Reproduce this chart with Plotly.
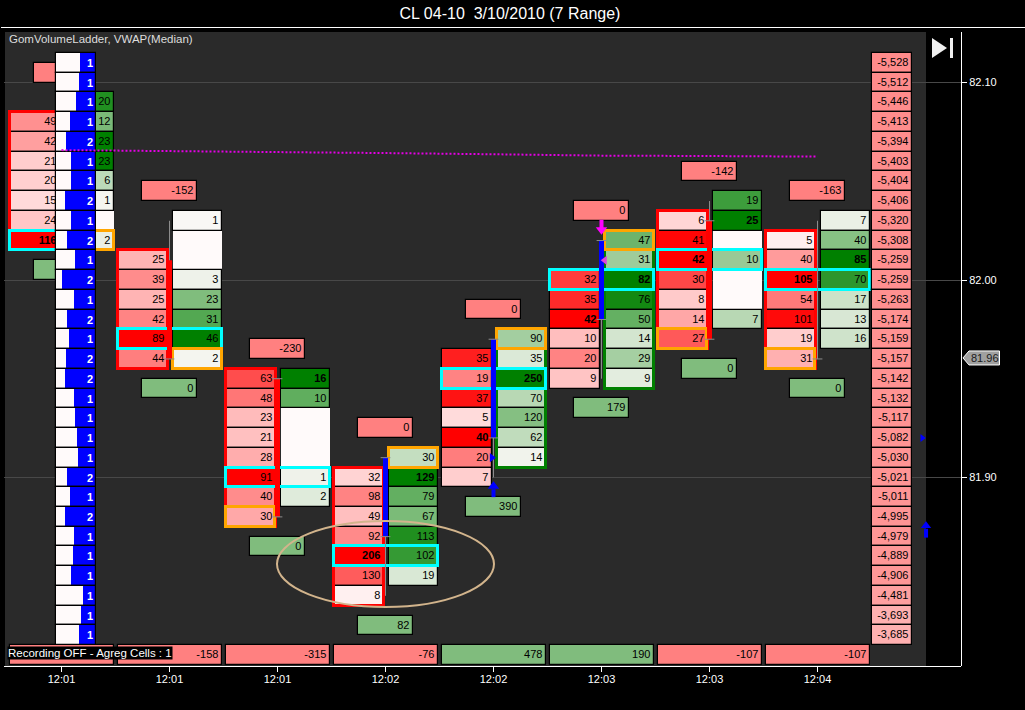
import plotly.graph_objects as go

# ---------- data ----------
tick_labels = ["12:01", "12:01", "12:01", "12:02", "12:02", "12:03", "12:03", "12:04"]
price_ticks = [82.10, 82.00, 81.90]
last_price = 81.96

bid_top = [82.08, 82.01, 81.95, 81.90, 81.96, 82.00, 82.03, 82.02]
ask_top = [82.09, 82.03, 81.95, 81.91, 81.97, 82.02, 82.04, 82.03]
bid_0 = [49, 42, 21, 20, 15, 24, 116]
bid_1 = [25, 39, 25, 42, 89, 44]
bid_2 = [63, 48, 23, 21, 28, 91, 40, 30]
bid_3 = [32, 98, 49, 92, 206, 130, 8]
bid_4 = [35, 19, 37, 5, 40, 20, 7]
bid_5 = [32, 35, 42, 10, 20, 9]
bid_6 = [6, 41, 42, 30, 8, 14, 27]
bid_7 = [5, 40, 105, 54, 101, 19, 31]
ask_0 = [20, 12, 23, 23, 6, 1, 0, 2]
ask_1 = [1, 0, 0, 3, 23, 31, 46, 2]
ask_2 = [16, 10, 0, 0, 0, 1, 2]
ask_3 = [30, 129, 79, 67, 113, 102, 19]
ask_4 = [90, 35, 250, 70, 120, 62, 14]
ask_5 = [47, 31, 82, 76, 50, 14, 29, 9]
ask_6 = [19, 25, 0, 10, 0, 0, 7]
ask_7 = [7, 40, 85, 70, 17, 13, 16]
bids = [bid_0, bid_1, bid_2, bid_3, bid_4, bid_5, bid_6, bid_7]
asks = [ask_0, ask_1, ask_2, ask_3, ask_4, ask_5, ask_6, ask_7]
bold_bid = [116, None, None, 206, 40, 42, 42, 105]
bold_ask = [None, None, 16, 129, 250, 82, 25, 85]

poc_price = [82.02, 81.97, 81.90, 81.86, 81.95, 82.00, 82.01, 82.00]
open_side = ["ask", "ask", "bid", "ask", "ask", "ask", "bid", "bid"]
open_price = [82.02, 81.96, 81.88, 81.91, 81.97, 82.02, 81.97, 81.96]
frame_side = ["bid", "bid", "bid", "bid", "ask", "ask", "bid", "bid"]

delta_hi_price = [82.105, 82.045, 81.965, 81.925, 81.985, 82.035, 82.055, 82.045]
delta_hi_text = ["", "-152", "-230", "0", "0", "0", "-142", "-163"]
delta_lo_price = [82.005, 81.945, 81.865, 81.825, 81.885, 81.935, 81.955, 81.945]
delta_lo_text = ["", "0", "0", "82", "390", "179", "0", "0"]
total_delta = [None, -158, -315, -76, 478, 190, -107, -107]

# candles for columns 1..7
candle_col = [1, 2, 3, 4, 5, 6, 7]
body_hi = [82.01, 81.95, 81.91, 81.97, 82.02, 82.03, 82.00]
body_lo = [81.96, 81.88, 81.87, 81.92, 81.98, 81.97, 82.00]
wick_hi = [82.03, 81.95, 81.91, 81.97, 82.02, 82.04, 82.03]
wick_lo = [81.96, 81.88, 81.84, 81.90, 81.95, 81.97, 81.96]
candle_dir = ["red", "red", "blue", "blue", "blue", "red", "red"]
cap_col = [1, 2, 2, 3, 3, 4, 4, 5, 5, 6, 6, 7]
cap_price = [81.96, 81.95, 81.88, 81.91, 81.87, 81.97, 81.92, 82.02, 81.98, 82.03, 81.97, 81.96]

ladder_price = [82.11, 82.10, 82.09, 82.08, 82.07, 82.06, 82.05, 82.04, 82.03, 82.02,
                82.01, 82.00, 81.99, 81.98, 81.97, 81.96, 81.95, 81.94, 81.93, 81.92,
                81.91, 81.90, 81.89, 81.88, 81.87, 81.86, 81.85, 81.84, 81.83, 81.82]
cum_delta = [-5528, -5512, -5446, -5413, -5394, -5403, -5404, -5406, -5320, -5308,
             -5259, -5259, -5263, -5174, -5159, -5157, -5142, -5132, -5117, -5082,
             -5030, -5021, -5011, -4995, -4979, -4889, -4906, -4481, -3693, -3685]
profile_label = [1, 1, 1, 1, 2, 1, 1, 2, 1, 2, 1, 2, 1, 2, 1, 2, 2, 1, 1, 1, 1, 2, 1, 2, 1, 1, 1, 1, 1, 1]
profile_volume = [16, 17, 20, 26, 30, 25, 25, 31, 25, 29, 21, 34, 22, 29, 27, 30, 31, 22, 21, 19,
                  18, 29, 26, 31, 22, 23, 25, 13, 15, 17]

vwap_col = [0, 1, 2, 3, 4, 5, 6, 7]
vwap_price = [82.0658, 82.0654, 82.0650, 82.0643, 82.0637, 82.0630, 82.0628, 82.0625]

# ---------- layout constants ----------
L, R, T, B = 4, 961, 27, 666
PXW = R - L
PXH = B - T
COL = 108.0
CX0 = 61.5
Y0, DY = 280.0, 1974.0
TICK = 0.01


def px_x(px):
    return (px - CX0) / COL


def py_p(py):
    return 82 + (Y0 - py) / DY


def pap_x(px):
    return (px - L) / PXW


def pap_y(py):
    return 1 - (py - T) / PXH


def mix(v, vmax, rgb):
    a = min(1.0, abs(v) / vmax) if vmax else 0
    base = (255, 250, 250)
    return "rgb(%d,%d,%d)" % tuple(round(base[i] + (rgb[i] - base[i]) * a) for i in range(3))


FONT = "Liberation Sans"
RED, GREEN = (255, 0, 0), (0, 128, 0)
DELTA_RED, DELTA_GREEN = "#FF8080", "#80BC7D"
WHITE = "#FFFAFA"

fig = go.Figure()


def hbar(y, base, w, color, text=None, lw=1, lc="black", height=TICK, tc="black", size=11):
    fig.add_trace(go.Bar(
        orientation="h", y=y, x=w, base=base, width=height,
        marker=dict(color=color, line=dict(color=lc, width=lw)),
        text=text, textposition="inside" if text is not None else "none",
        insidetextanchor="end", constraintext="none", textangle=0,
        textfont=dict(family=FONT, size=size, color=tc),
        hoverinfo="skip", showlegend=False))


# candles (below the cells)
wx, wy, rx, ry, bx, by = [], [], [], [], [], []
for c, bh, bl, wh, wl, d in zip(candle_col, body_hi, body_lo, wick_hi, wick_lo, candle_dir):
    wx += [c, c, None]
    wy += [wh, wl, None]
    if bh != bl:
        if d == "red":
            rx += [c, c, None]
            ry += [bh, bl, None]
        else:
            bx += [c, c, None]
            by += [bh, bl, None]
common = dict(mode="lines", hoverinfo="skip", showlegend=False)
fig.add_trace(go.Scatter(x=wx, y=wy, line=dict(color="#8C8C8C", width=1), **common))
fig.add_trace(go.Scatter(x=rx, y=ry, line=dict(color="#FF0000", width=5), **common))
fig.add_trace(go.Scatter(x=bx, y=by, line=dict(color="#0000FF", width=5), **common))
fig.add_trace(go.Scatter(x=cap_col, y=cap_price, mode="markers", hoverinfo="skip", showlegend=False,
                         marker=dict(symbol="line-ew", size=7, line=dict(color="#8C8C8C", width=1))))

# delta boxes above / below and totals
for c in range(8):
    hbar([delta_hi_price[c]], [c - 27.5 / COL], [55 / COL], DELTA_RED, [delta_hi_text[c]], lw=1.2)
    hbar([delta_lo_price[c]], [c - 27.5 / COL], [55 / COL], DELTA_GREEN, [delta_lo_text[c]], lw=1.2)
    t = total_delta[c]
    hbar([81.81], [c - 52 / COL], [104 / COL],
         DELTA_GREEN if (t or 0) > 0 else DELTA_RED, ["" if t is None else str(t)], lw=1.2)

# bid and ask cells
for c in range(8):
    b, a = bids[c], asks[c]
    by_ = [round(bid_top[c] - i * TICK, 2) for i in range(len(b))]
    ay_ = [round(ask_top[c] - i * TICK, 2) for i in range(len(a))]
    bmax, amax = max(b), max(a)
    btxt = [("<b>%d</b>" % v if v == bold_bid[c] else str(v)) for v in b]
    atxt = [("" if v == 0 else ("<b>%d</b>" % v if v == bold_ask[c] else str(v))) for v in a]
    hbar(by_, [c - 52 / COL] * len(b), [50 / COL] * len(b), [mix(v, bmax, RED) for v in b], btxt, lw=1.2)
    hbar(ay_, [c + 3 / COL] * len(a), [49 / COL] * len(a), [mix(v, amax, GREEN) for v in a], atxt,
         lw=[0 if v == 0 else 1.2 for v in a])

    # outer frame of the dominant side
    if frame_side[c] == "bid":
        mid = (by_[0] + by_[-1]) / 2
        hbar([mid], [c - 52 / COL], [50 / COL], "rgba(0,0,0,0)", lw=3, lc="#FF0000", height=TICK * len(b))
    else:
        mid = (ay_[0] + ay_[-1]) / 2
        hbar([mid], [c + 3 / COL], [49 / COL], "rgba(0,0,0,0)", lw=3, lc="#008000", height=TICK * len(a))

# point-of-control and opening cells
for c in range(8):
    hbar([poc_price[c]], [c - 52 / COL], [104 / COL], "rgba(0,0,0,0)", lw=3, lc="#00FFFF")
    base = c - 52 / COL if open_side[c] == "bid" else c + 3 / COL
    hbar([open_price[c]], [base], [49.5 / COL], "rgba(0,0,0,0)", lw=3, lc="#FFA500")

# volume profile on the left
n = len(ladder_price)
hbar(ladder_price, [px_x(56)] * n, [40 / COL] * n, WHITE, lw=0)
hbar(ladder_price, [px_x(96) - v / COL for v in profile_volume], [v / COL for v in profile_volume],
     "#0000FF", ["<b>%d</b>" % v for v in profile_label], lw=0, tc="white")
hbar(ladder_price, [px_x(56)] * n, [40 / COL] * n, "rgba(0,0,0,0)", lw=1.2)

# cumulative delta ladder on the right
hbar(ladder_price, [px_x(872)] * n, [40 / COL] * n,
     [mix(v, 12400, RED) for v in cum_delta], ["{:,}".format(v) for v in cum_delta], lw=1.2)

# VWAP
fig.add_trace(go.Scatter(x=vwap_col, y=vwap_price, mode="lines", hoverinfo="skip", showlegend=False,
                         line=dict(color="#E400E4", width=2, dash="2px,2px")))

# signal markers
def tri(x, y, sym, color, size, lw=0, lc="white"):
    fig.add_trace(go.Scatter(x=[x], y=[y], mode="markers", hoverinfo="skip", showlegend=False,
                             cliponaxis=False,
                             marker=dict(symbol=sym, color=color, size=size, line=dict(width=lw, color=lc))))


def shaft(x, y0, y1, color):
    fig.add_trace(go.Scatter(x=[x, x], y=[y0, y1], mode="lines", hoverinfo="skip", showlegend=False,
                             line=dict(color=color, width=4)))


tri(3.985, 81.91, "triangle-right", "#0000FF", 8)
shaft(4.0, 81.890, 81.894, "#0000FF")
tri(4.0, 81.8955, "triangle-up", "#0000FF", 10)
shaft(5.0, 82.0305, 82.026, "#FF00FF")
tri(5.0, 82.0255, "triangle-down", "#FF00FF", 10)
tri(5.03, 82.01, "triangle-left", "#E040E0", 8)
tri(7.97, 81.92, "triangle-right", "#0000FF", 7)
shaft(8.005, 81.8695, 81.874, "#0000FF")
tri(8.005, 81.8755, "triangle-up", "#0000FF", 9)

flag_y = Y0 + (82 - last_price) * DY - 1

shapes = [
    # chart panel
    dict(type="rect", xref="paper", yref="paper", layer="below",
         x0=pap_x(5), x1=pap_x(926), y0=pap_y(666), y1=pap_y(32),
         fillcolor="#2A2A2A", line=dict(width=0)),
    # frame lines
    dict(type="line", xref="paper", yref="paper", x0=pap_x(1), x1=pap_x(1025), y0=pap_y(27.5), y1=pap_y(27.5),
         line=dict(color="white", width=1)),
    dict(type="line", xref="paper", yref="paper", x0=pap_x(961.5), x1=pap_x(961.5), y0=pap_y(32), y1=pap_y(666),
         line=dict(color="white", width=1)),
    # go-to-end button
    dict(type="path", xref="paper", yref="paper",
         path="M %f %f L %f %f L %f %f Z" % (pap_x(932), pap_y(38), pap_x(947), pap_y(48), pap_x(932), pap_y(58)),
         fillcolor="#F0F0F0", line=dict(width=0)),
    dict(type="rect", xref="paper", yref="paper", x0=pap_x(950), x1=pap_x(953), y0=pap_y(58), y1=pap_y(38),
         fillcolor="#F0F0F0", line=dict(width=0)),
    # last price flag
    dict(type="path", xref="paper", yref="paper",
         path="M %f %f L %f %f L %f %f L %f %f L %f %f Z" % (
             pap_x(963), pap_y(flag_y), pap_x(969), pap_y(flag_y - 7), pap_x(999.5), pap_y(flag_y - 7),
             pap_x(999.5), pap_y(flag_y + 7), pap_x(969), pap_y(flag_y + 7)),
         fillcolor="#A0A0A0", line=dict(color="white", width=1)),
    # hand-drawn ellipse
    dict(type="circle", xref="x", yref="y", x0=px_x(277), x1=px_x(494), y0=py_p(607), y1=py_p(521),
         line=dict(color="#D2B48C", width=2), fillcolor="rgba(0,0,0,0)"),
]

annotations = [
    dict(text="GomVolumeLadder, VWAP(Median)", xref="paper", yref="paper", x=pap_x(6.5), y=pap_y(39),
         xanchor="left", yanchor="middle", showarrow=False, font=dict(family=FONT, size=11.5, color="#DDDDDD")),
    dict(text="Recording OFF - Agreg Cells : 1", xref="paper", yref="paper", x=pap_x(6.5), y=pap_y(653),
         xanchor="left", yanchor="middle", showarrow=False, bgcolor="black", borderpad=0,
         font=dict(family=FONT, size=11.5, color="white")),
    dict(text="81.96", xref="paper", yref="paper", x=pap_x(970), y=pap_y(flag_y), xanchor="left", yanchor="middle",
         showarrow=False, borderpad=0,
         font=dict(family=FONT, size=11, color="#1A1A1A")),
]

fig.update_layout(
    width=1025, height=710, autosize=False,
    margin=dict(l=L, r=1025 - R, t=T, b=710 - B, pad=0),
    paper_bgcolor="black", plot_bgcolor="rgba(0,0,0,0)",
    barmode="overlay", bargap=0, showlegend=False,
    title=dict(text="CL 04-10  3/10/2010 (7 Range)", x=510 / 1025, xref="container", xanchor="center",
               y=1 - 13 / 710, yanchor="middle", font=dict(family=FONT, size=16, color="white")),
    xaxis=dict(range=[px_x(L), px_x(R)], tickvals=list(range(8)), ticktext=tick_labels,
               showgrid=False, zeroline=False, showline=True, linecolor="white", linewidth=1,
               ticks="outside", ticklen=5, tickcolor="white", tickwidth=1, ticklabelstandoff=-2,
               tickfont=dict(family=FONT, size=11, color="white")),
    yaxis=dict(range=[py_p(B), py_p(T)], tickvals=price_ticks, ticktext=["%.2f" % p for p in price_ticks],
               side="right", showgrid=True, gridcolor="#484848", gridwidth=1, zeroline=False, showline=False,
               ticks="outside", ticklen=5, tickcolor="white", tickwidth=1,
               tickfont=dict(family=FONT, size=11, color="white")),
    shapes=shapes, annotations=annotations, font=dict(family=FONT),
)

fig.write_html("out.html", config={"displayModeBar": False},
               post_script="document.body.style.margin='0';document.body.style.background='black';")
